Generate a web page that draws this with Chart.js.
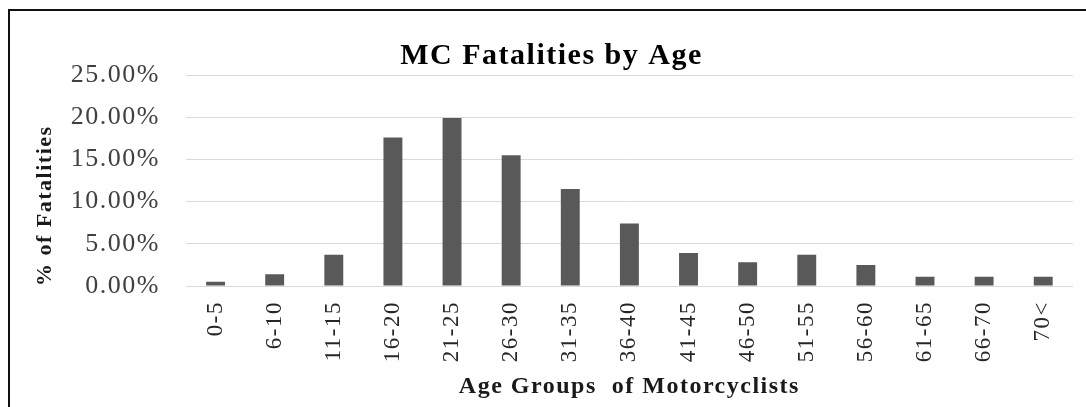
<!DOCTYPE html>
<html lang="en">
<head>
  <meta charset="UTF-8">
  <title>MC Fatalities by Age</title>
  <script src="https://cdn.jsdelivr.net/npm/chart.js"></script>
  <style>
    html, body {
      margin: 0;
      padding: 0;
      background: #fff;
      overflow: hidden;
    }

    .frame {
      position: absolute;
      left: 8px;
      top: 9px;
      width: 1200px;
      height: 600px;
      border-left: 2px solid #111;
      border-top: 2px solid #111;
    }

    .chart-box {
      position: absolute;
      left: 0;
      top: 0;
      width: 1086px;
      height: 407px;
    }
  </style>
</head>
<body>
<div class="frame"></div>
<div class="chart-box">
  <canvas id="ageChart"></canvas>
</div>

<script>
  // Age groups and share of motorcycle fatalities (%)
  var ageGroups = ['0-5', '6-10', '11-15', '16-20', '21-25', '26-30', '31-35', '36-40',
    '41-45', '46-50', '51-55', '56-60', '61-65', '66-70', '70<'];
  var fatalityPct = [0.5, 1.4, 3.7, 17.6, 19.9, 15.5, 11.5, 7.4, 3.9, 2.8, 3.7, 2.5, 1.1, 1.1, 1.1];
  var yTicks = [0, 5, 10, 15, 20, 25];

  // stretched-looking text in the original
  var spacingPlugin = {
    id: 'spacing',
    beforeDraw: function (chart) {
      chart.ctx.letterSpacing = '1.5px';
    }
  };

  var ctx = document.getElementById('ageChart').getContext('2d');
  var ageChart = new Chart(ctx, {
    type: 'bar',
    data: {
      labels: ageGroups,
      datasets: [{
        label: '% of Fatalities',
        data: fatalityPct,
        backgroundColor: '#595959',
        barPercentage: 0.32,
        categoryPercentage: 1
      }]
    },
    plugins: [spacingPlugin],
    options: {
      responsive: true,
      maintainAspectRatio: false,
      animation: false,
      layout: {
        padding: { left: 22, right: 5, top: 0, bottom: 0 }
      },
      plugins: {
        legend: { display: false },
        tooltip: { enabled: false },
        title: {
          display: true,
          text: 'MC Fatalities by Age',
          color: '#000',
          font: { family: 'Liberation Serif', size: 30, weight: 'bold' },
          padding: { top: 38, bottom: 1 }
        }
      },
      scales: {
        x: {
          grid: { display: false, drawTicks: false },
          border: { color: '#d9d9d9', width: 1 },
          ticks: {
            color: '#262626',
            font: { family: 'Liberation Serif', size: 23 },
            minRotation: 90,
            maxRotation: 90,
            autoSkip: false,
            padding: 15
          },
          title: {
            display: true,
            text: 'Age Groups  of Motorcyclists',
            color: '#1a1a1a',
            font: { family: 'Liberation Serif', size: 24, weight: 'bold' },
            padding: { top: 0, bottom: 6 }
          },
          afterFit: function (scale) {
            scale.height = 121;
          }
        },
        y: {
          min: 0,
          max: 25,
          afterBuildTicks: function (scale) {
            scale.ticks = yTicks.map(function (v) { return { value: v }; });
          },
          grid: { color: '#d9d9d9', lineWidth: 1, drawTicks: false },
          border: { display: false },
          ticks: {
            color: '#404040',
            font: { family: 'Liberation Serif', size: 26 },
            padding: 26,
            callback: function (value) { return value.toFixed(2) + '%'; }
          },
          title: {
            display: true,
            text: '% of Fatalities',
            align: 'start',
            color: '#1a1a1a',
            font: { family: 'Liberation Serif', size: 22, weight: 'bold' },
            padding: { top: 10, bottom: 0 }
          },
          afterFit: function (scale) {
            scale.width = 164;
          }
        }
      }
    }
  });
</script>
</body>
</html>
